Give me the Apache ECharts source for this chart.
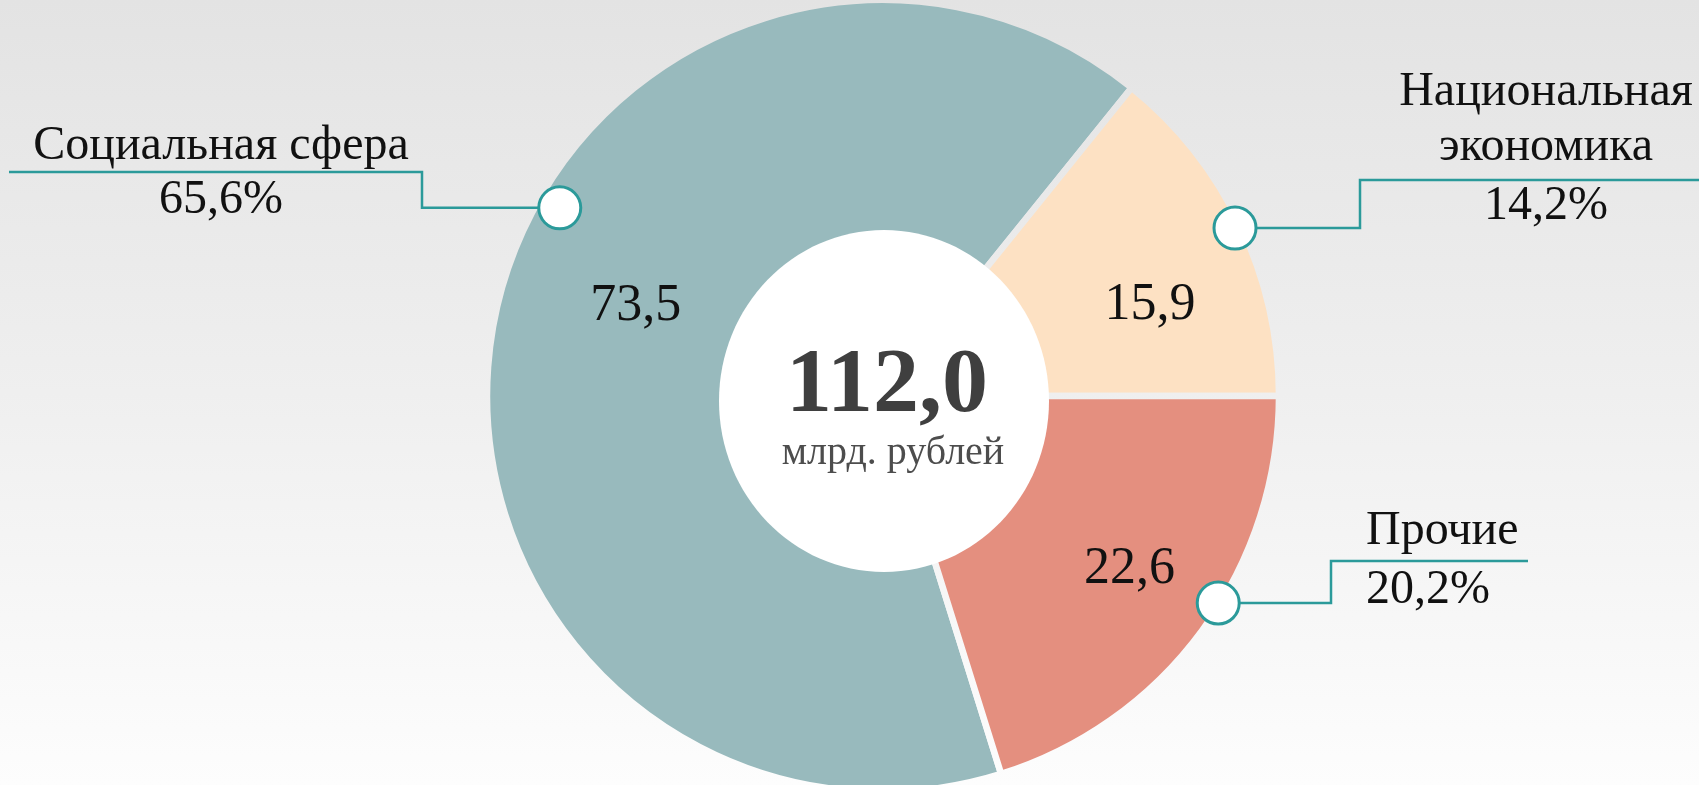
<!DOCTYPE html>
<html>
<head>
<meta charset="utf-8">
<script src="https://cdn.jsdelivr.net/npm/echarts@6/dist/echarts.min.js"></script>
<style>
html,body{margin:0;padding:0;background:#f0f0f0;}
#c{width:1699px;height:785px;}
</style>
</head>
<body>
<div id="c"></div>
<script>
// ---- data ----
const categories = ['Социальная сфера', 'Национальная экономика', 'Прочие'];
const values = [73.5, 15.9, 22.6];
const valueLabels = ['73,5', '15,9', '22,6'];
const shareLabels = ['65,6%', '14,2%', '20,2%'];
const nameLines = [['Социальная сфера'], ['Национальная', 'экономика'], ['Прочие']];
const totalLabel = '112,0';
const unitLabel = 'млрд. рублей';

// ---- layout / style ----
const W = 1699, H = 785;
const CX = 883, CY = 396, R0 = 150, R = 396;
const colors = ['#98babd', '#fde1c3', '#e48f7f'];
const teal = '#2b9a9a';
const FONT = '"Liberation Serif", "Times New Roman", serif';
const bgStops = [{offset: 0, color: '#e3e3e3'}, {offset: 0.5, color: '#efefef'}, {offset: 1, color: '#fdfdfd'}];
const valueShift = [[24, -38], [18, 28], [24, 10]];
// callout: dot angle (deg), dot radius, elbow x, underline y, underline end x, text x, align, name y's, pct y
const callouts = [
  {ang: 149.8, rad: 374, elbowX: 422, lineY: 172, endX: 9, textX: 221, align: 'center', nameY: [146], pctY: 200},
  {ang: 25.5, rad: 390, elbowX: 1360, lineY: 180, endX: 1699, textX: 1546, align: 'center', nameY: [92, 147], pctY: 206},
  {ang: -31.7, rad: 394, elbowX: 1331, lineY: 561, endX: 1528, textX: 1366, align: 'left', nameY: [531], pctY: 590}
];

const total = values.reduce((a, b) => a + b, 0);
const chart = echarts.init(document.getElementById('c'), null, {renderer: 'canvas'});

const graphics = [];
// white center disc
graphics.push({type: 'ellipse', z: 10, silent: true, shape: {cx: CX + 1, cy: CY + 5, rx: 165, ry: 171}, style: {fill: '#ffffff'}});
graphics.push({type: 'text', z: 11, silent: true, style: {text: totalLabel, x: CX + 4, y: 387, font: 'bold 92px ' + FONT, fill: '#3f3f3f', align: 'center', verticalAlign: 'middle', textAlign: 'center', textVerticalAlign: 'middle'}});
graphics.push({type: 'text', z: 11, silent: true, style: {text: unitLabel, x: CX + 10, y: 453, font: '40px ' + FONT, fill: '#4d4d4d', align: 'center', verticalAlign: 'middle', textAlign: 'center', textVerticalAlign: 'middle'}});

callouts.forEach((c, i) => {
  const a = c.ang * Math.PI / 180;
  const dx = CX + c.rad * Math.cos(a), dy = CY - c.rad * Math.sin(a);
  graphics.push({type: 'polyline', z: 10, silent: true,
    shape: {points: [[dx, dy], [c.elbowX, dy], [c.elbowX, c.lineY], [c.endX, c.lineY]]},
    style: {stroke: teal, lineWidth: 2.5, fill: null}});
  graphics.push({type: 'circle', z: 12, silent: true, shape: {cx: dx, cy: dy, r: 21},
    style: {fill: '#ffffff', stroke: teal, lineWidth: 3}});
  nameLines[i].forEach((t, k) => {
    graphics.push({type: 'text', z: 11, silent: true, style: {text: t, x: c.textX, y: c.nameY[k], font: '48px ' + FONT, fill: '#111111', align: c.align, verticalAlign: 'middle', textAlign: c.align, textVerticalAlign: 'middle'}});
  });
  graphics.push({type: 'text', z: 11, silent: true, style: {text: shareLabels[i], x: c.textX, y: c.pctY, font: '48px ' + FONT, fill: '#111111', align: c.align, verticalAlign: 'middle', textAlign: c.align, textVerticalAlign: 'middle'}});
});

const option = {
  animation: false,
  backgroundColor: new echarts.graphic.LinearGradient(0, 0, 0, 1, bgStops),
  series: [{
    type: 'pie',
    center: [CX, CY],
    radius: [R0, R],
    startAngle: 360 - 360 * values[2] / total,
    clockwise: true,
    silent: true,
    avoidLabelOverlap: false,
    itemStyle: {borderColor: new echarts.graphic.LinearGradient(0, 0, 0, H, bgStops, true), borderWidth: 6.5},
    label: {show: true, position: 'inside', formatter: p => valueLabels[p.dataIndex], fontFamily: FONT, fontSize: 52, color: '#111111'},
    labelLine: {show: false},
    labelLayout: p => ({dx: valueShift[p.dataIndex][0], dy: valueShift[p.dataIndex][1]}),
    emphasis: {disabled: true},
    data: categories.map((n, i) => ({name: n, value: values[i], itemStyle: {color: colors[i]}}))
  }],
  graphic: graphics
};
chart.setOption(option);
</script>
</body>
</html>
